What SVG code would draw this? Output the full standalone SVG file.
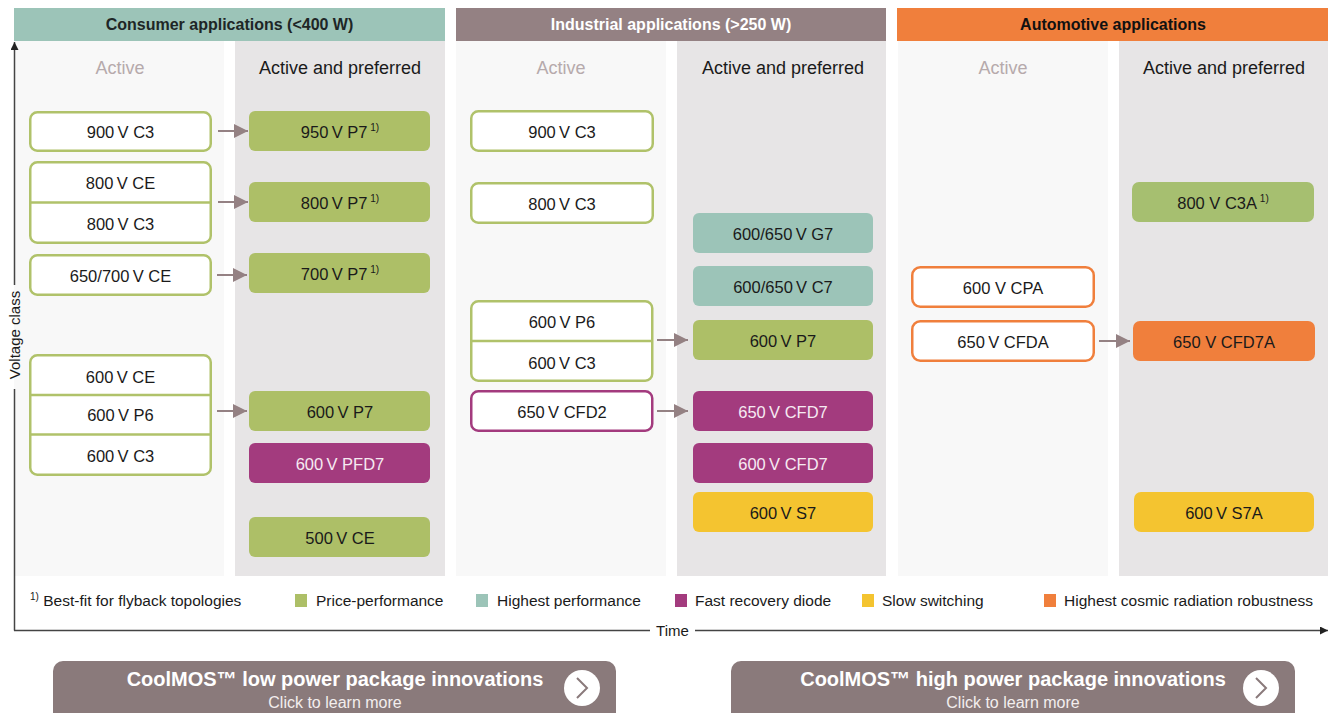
<svg xmlns="http://www.w3.org/2000/svg" width="1328" height="713" viewBox="0 0 1328 713">
<style>
text{font-family:"Liberation Sans",Arial,sans-serif}
.hdr{font-size:16px;font-weight:700;text-anchor:middle}
.colA{font-size:18px;fill:#b6aaac;text-anchor:middle}
.colP{font-size:18px;fill:#1a1a1a;text-anchor:middle}
.lbl{font-size:16.5px;fill:#1a1a1a;text-anchor:middle}
.lblw{font-size:16.5px;fill:#f6eaf2;text-anchor:middle}
.sup{font-size:10px}
.bgA{fill:#f8f8f8}
.bgP{fill:#e7e5e6}
.og{fill:#fff;stroke:#b0c26a;stroke-width:2.5}
.op{fill:#fff;stroke:#a33b7e;stroke-width:2.5}
.oo{fill:#fff;stroke:#f07f3c;stroke-width:2.5}
.divg{stroke:#b0c26a;stroke-width:2.5}
.fg{fill:#adbf67}
.fg2{fill:#a6bf70}
.ft{fill:#9cc4b8}
.fp{fill:#a33b7e}
.fy{fill:#f4c430}
.fo{fill:#f07f3c}
.conn{stroke:#948183;stroke-width:2;fill:none;marker-end:url(#arr)}
.axis{stroke:#444;stroke-width:1.5;fill:none}
.leg{font-size:15.5px;fill:#1a1a1a}
.btn{fill:#8a7a7b}
.btnT{font-size:20px;font-weight:700;fill:#fff;text-anchor:middle}
.btnS{font-size:16px;fill:#f3eeee;text-anchor:middle}
</style>
<defs>
<marker id="arr" viewBox="0 0 10 10" refX="10" refY="5" markerWidth="14" markerHeight="15" markerUnits="userSpaceOnUse" orient="auto"><path d="M0,0 L10,5 L0,10 z" fill="#948183"/></marker>
<marker id="ax" viewBox="0 0 10 10" refX="10" refY="5" markerWidth="10" markerHeight="8" markerUnits="userSpaceOnUse" orient="auto"><path d="M0,0 L10,5 L0,10 z" fill="#222"/></marker>
</defs>
<rect width="1328" height="713" fill="#fff"/>

<g id="columns">
<rect class="bgA" x="14" y="41" width="210" height="535"/>
<rect class="bgP" x="235" y="41" width="210" height="535"/>
<rect class="bgA" x="456" y="41" width="210" height="535"/>
<rect class="bgP" x="677" y="41" width="209" height="535"/>
<rect class="bgA" x="898" y="41" width="210" height="535"/>
<rect class="bgP" x="1119" y="41" width="209" height="535"/>
</g>

<g id="header-consumer">
<rect x="14" y="8" width="431" height="33" fill="#9cc4b8"/>
<text class="hdr" x="229.5" y="30" fill="#1e2626">Consumer applications (&lt;400 W)</text>
</g>
<g id="header-industrial">
<rect x="456" y="8" width="430" height="33" fill="#948183"/>
<text class="hdr" x="671" y="30" fill="#fff">Industrial applications (&gt;250 W)</text>
</g>
<g id="header-automotive">
<rect x="897" y="8" width="431" height="33" fill="#f07f3c"/>
<text class="hdr" x="1113" y="30" fill="#111">Automotive applications</text>
</g>

<g id="column-titles">
<text class="colA" x="120" y="74">Active</text>
<text class="colP" x="340" y="74">Active and preferred</text>
<text class="colA" x="561" y="74">Active</text>
<text class="colP" x="783" y="74">Active and preferred</text>
<text class="colA" x="1003" y="74">Active</text>
<text class="colP" x="1224" y="74">Active and preferred</text>
</g>

<g id="axes">
<path class="axis" d="M14.5,630.5 V389"/>
<path class="axis" d="M14.5,285 V42" marker-end="url(#ax)"/>
<text x="0" y="0" transform="translate(20,335) rotate(-90)" style="font-size:15px;fill:#1a1a1a;text-anchor:middle">Voltage class</text>
<path class="axis" d="M14,630.5 H650"/>
<path class="axis" d="M695,630.5 H1328" marker-end="url(#ax)"/>
<text x="672.5" y="636" style="font-size:15px;fill:#1a1a1a;text-anchor:middle">Time</text>
</g>

<g id="c-900v-c3"><rect class="og" x="30.25" y="112.25" width="180.5" height="38.5" rx="7"/><text class="lbl" x="120.5" y="138">900&#8201;V C3</text></g>
<g id="c-950v-p7"><rect class="fg" x="249" y="111" width="181" height="40" rx="6"/><text class="lbl" x="340" y="138">950&#8201;V P7<tspan class="sup" dy="-7"> 1)</tspan></text></g>
<g id="c-800v-ce-c3"><rect class="og" x="30.25" y="162.25" width="180.5" height="80.5" rx="7"/><line class="divg" x1="30" y1="202.5" x2="211" y2="202.5"/><text class="lbl" x="120.5" y="189">800&#8201;V CE</text><text class="lbl" x="120.5" y="230">800&#8201;V C3</text></g>
<g id="c-800v-p7"><rect class="fg" x="249" y="182" width="181" height="40" rx="6"/><text class="lbl" x="340" y="209">800&#8201;V P7<tspan class="sup" dy="-7"> 1)</tspan></text></g>
<g id="c-650-700v-ce"><rect class="og" x="30.25" y="255.25" width="180.5" height="39.5" rx="7"/><text class="lbl" x="120.5" y="282">650/700&#8201;V CE</text></g>
<g id="c-700v-p7"><rect class="fg" x="249" y="253" width="181" height="40" rx="6"/><text class="lbl" x="340" y="280">700&#8201;V P7<tspan class="sup" dy="-7"> 1)</tspan></text></g>
<g id="c-600v-ce-p6-c3"><rect class="og" x="30.25" y="355.25" width="180.5" height="119.5" rx="7"/><line class="divg" x1="30" y1="395" x2="211" y2="395"/><line class="divg" x1="30" y1="434.5" x2="211" y2="434.5"/><text class="lbl" x="120.5" y="383">600&#8201;V CE</text><text class="lbl" x="120.5" y="421">600&#8201;V P6</text><text class="lbl" x="120.5" y="462">600&#8201;V C3</text></g>
<g id="c-600v-p7"><rect class="fg" x="249" y="391" width="181" height="40" rx="6"/><text class="lbl" x="340" y="418">600&#8201;V P7</text></g>
<g id="c-600v-pfd7"><rect class="fp" x="249" y="443" width="181" height="40" rx="6"/><text class="lblw" x="340" y="470">600&#8201;V PFD7</text></g>
<g id="c-500v-ce"><rect class="fg" x="249" y="517" width="181" height="40" rx="6"/><text class="lbl" x="340" y="544">500&#8201;V CE</text></g>

<g id="i-900v-c3"><rect class="og" x="471.25" y="111.25" width="181.5" height="39.5" rx="7"/><text class="lbl" x="562" y="138">900&#8201;V C3</text></g>
<g id="i-800v-c3"><rect class="og" x="471.25" y="183.25" width="181.5" height="39.5" rx="7"/><text class="lbl" x="562" y="210">800&#8201;V C3</text></g>
<g id="i-600v-p6-c3"><rect class="og" x="471.25" y="301.25" width="181" height="79.5" rx="7"/><line class="divg" x1="471" y1="341" x2="652" y2="341"/><text class="lbl" x="562" y="328">600&#8201;V P6</text><text class="lbl" x="562" y="369">600&#8201;V C3</text></g>
<g id="i-650v-cfd2"><rect class="op" x="471.25" y="391.25" width="181" height="39.5" rx="7"/><text class="lbl" x="562" y="418">650&#8201;V CFD2</text></g>
<g id="i-600-650v-g7"><rect class="ft" x="693" y="213" width="180" height="40" rx="6"/><text class="lbl" x="783" y="240">600/650&#8201;V G7</text></g>
<g id="i-600-650v-c7"><rect class="ft" x="693" y="266" width="180" height="40" rx="6"/><text class="lbl" x="783" y="293">600/650&#8201;V C7</text></g>
<g id="i-600v-p7"><rect class="fg" x="693" y="320" width="180" height="40" rx="6"/><text class="lbl" x="783" y="347">600&#8201;V P7</text></g>
<g id="i-650v-cfd7"><rect class="fp" x="693" y="391" width="180" height="40" rx="6"/><text class="lblw" x="783" y="418">650&#8201;V CFD7</text></g>
<g id="i-600v-cfd7"><rect class="fp" x="693" y="443" width="180" height="40" rx="6"/><text class="lblw" x="783" y="470">600&#8201;V CFD7</text></g>
<g id="i-600v-s7"><rect class="fy" x="693" y="492" width="180" height="40" rx="6"/><text class="lbl" x="783" y="519">600&#8201;V S7</text></g>

<g id="a-600v-cpa"><rect class="oo" x="912.25" y="267.25" width="181.5" height="39.5" rx="8"/><text class="lbl" x="1003" y="294">600 V CPA</text></g>
<g id="a-650v-cfda"><rect class="oo" x="912.25" y="321.25" width="181.5" height="39.5" rx="8"/><text class="lbl" x="1003" y="348">650&#8201;V CFDA</text></g>
<g id="a-800v-c3a"><rect class="fg2" x="1132" y="182" width="182" height="40" rx="7"/><text class="lbl" x="1223" y="209">800 V C3A<tspan class="sup" dy="-7"> 1)</tspan></text></g>
<g id="a-650v-cfd7a"><rect class="fo" x="1133" y="321" width="182" height="40" rx="7"/><text class="lbl" x="1224" y="348">650 V CFD7A</text></g>
<g id="a-600v-s7a"><rect class="fy" x="1134" y="492" width="180" height="40" rx="7"/><text class="lbl" x="1224" y="519">600&#8201;V S7A</text></g>

<g id="connectors">
<line class="conn" x1="218" y1="131" x2="248" y2="131"/>
<line class="conn" x1="218" y1="202" x2="248" y2="202"/>
<line class="conn" x1="217" y1="275" x2="247" y2="275"/>
<line class="conn" x1="217" y1="411" x2="247" y2="411"/>
<line class="conn" x1="657" y1="340" x2="688" y2="340"/>
<line class="conn" x1="657" y1="411" x2="688" y2="411"/>
<line class="conn" x1="1099" y1="341" x2="1130" y2="341"/>
</g>

<g id="legend">
<text class="leg" x="30" y="606"><tspan class="sup" dy="-6">1)</tspan><tspan dy="6"> Best-fit for flyback topologies</tspan></text>
<rect x="295" y="594" width="12" height="13" fill="#adbf67"/><text class="leg" x="316" y="606">Price-performance</text>
<rect x="476" y="594" width="12" height="13" fill="#9cc4b8"/><text class="leg" x="497" y="606">Highest performance</text>
<rect x="675" y="594" width="12" height="13" fill="#a33b7e"/><text class="leg" x="695" y="606">Fast recovery diode</text>
<rect x="862" y="594" width="12" height="13" fill="#f4c430"/><text class="leg" x="882" y="606">Slow switching</text>
<rect x="1044" y="594" width="12" height="13" fill="#f07f3c"/><text class="leg" x="1064" y="606">Highest cosmic radiation robustness</text>
</g>

<g id="btn-low">
<rect class="btn" x="53" y="661" width="563" height="70" rx="10"/>
<text class="btnT" x="335" y="686">CoolMOS™ low power package innovations</text>
<text class="btnS" x="335" y="708">Click to learn more</text>
<circle cx="582" cy="688" r="18" fill="#fff"/>
<path d="M577,678 L587,688 L577,698" fill="none" stroke="#8a7a7b" stroke-width="2"/>
</g>
<g id="btn-high">
<rect class="btn" x="731" y="661" width="564" height="70" rx="10"/>
<text class="btnT" x="1013" y="686">CoolMOS™ high power package innovations</text>
<text class="btnS" x="1013" y="708">Click to learn more</text>
<circle cx="1261" cy="688" r="18" fill="#fff"/>
<path d="M1256,678 L1266,688 L1256,698" fill="none" stroke="#8a7a7b" stroke-width="2"/>
</g>
</svg>
